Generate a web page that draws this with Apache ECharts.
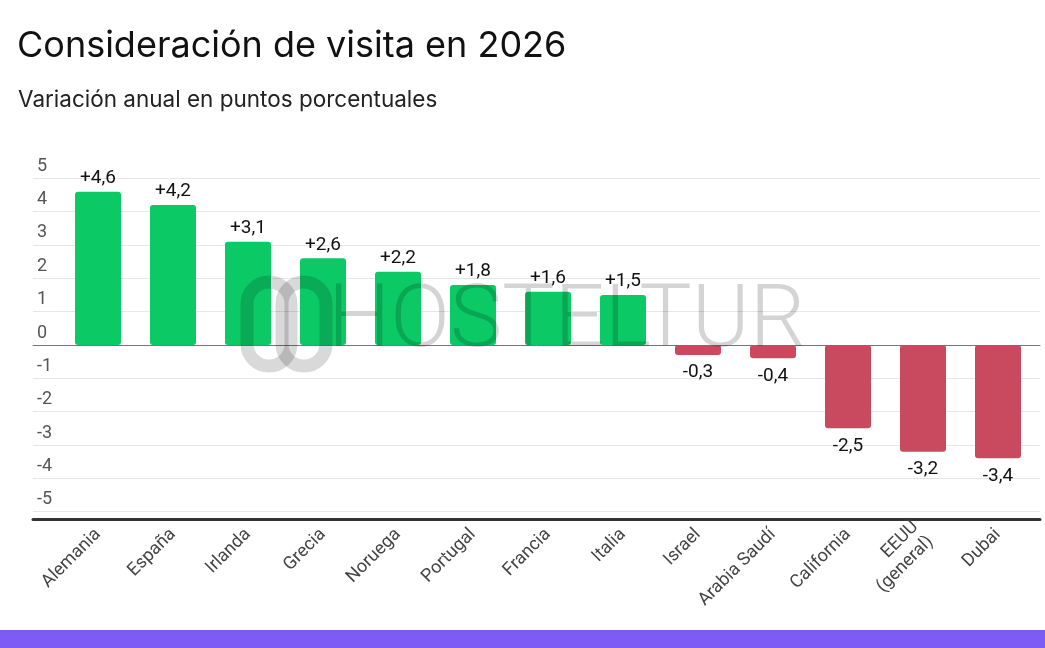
<!DOCTYPE html>
<html>
<head>
<meta charset="utf-8">
<script src="https://cdn.jsdelivr.net/npm/echarts@6/dist/echarts.min.js"></script>
<style>
  html, body { margin: 0; padding: 0; background: #fff; }
  #chart { width: 1045px; height: 648px; }
</style>
</head>
<body>
<div id="chart"></div>
<script>
// datos del gráfico
var categories = ['Alemania', 'España', 'Irlanda', 'Grecia', 'Noruega', 'Portugal', 'Francia',
    'Italia', 'Israel', 'Arabia Saudí', 'California', 'EEUU\n(general)', 'Dubai'];
var values = [4.6, 4.2, 3.1, 2.6, 2.2, 1.8, 1.6, 1.5, -0.3, -0.4, -2.5, -3.2, -3.4];
var yMin = -5;
var yMax = 5;
var yStep = 1;

var GREEN = '#0bc965';
var RED = '#c9495e';

function fmt(v) {
    var s = Math.abs(v).toFixed(1).replace('.', ',');
    return (v > 0 ? '+' : '-') + s;
}

var barData = values.map(function (v) {
    return {
        value: v,
        itemStyle: { color: v >= 0 ? GREEN : RED },
        label: { position: v >= 0 ? 'top' : 'bottom', distance: v >= 0 ? 4 : 8 }
    };
});

var myChart = echarts.init(document.getElementById('chart'));
var gridTop = 178.3;
var gridBottom = 648 - 511.7;

var option = {
    animation: false,
    backgroundColor: '#fff',
    title: [{
        text: 'Consideración de visita en 2026',
        left: 12, top: 23,
        textStyle: { fontFamily: 'Inter', fontSize: 36, fontWeight: 400, color: '#111' }
    }, {
        text: 'Variación anual en puntos porcentuales',
        left: 13, top: 84,
        textStyle: { fontFamily: 'Inter', fontSize: 22.5, fontWeight: 400, color: '#222' }
    }],
    graphic: [
        // marca de agua
        {
            type: 'rect', z: 100, silent: true,
            shape: { x: 247, y: 282, width: 44, height: 84, r: 22 },
            style: { fill: 'none', stroke: 'rgba(0,0,0,0.15)', lineWidth: 13 }
        },
        {
            type: 'rect', z: 100, silent: true,
            shape: { x: 282, y: 282, width: 44, height: 84, r: 22 },
            style: { fill: 'none', stroke: 'rgba(0,0,0,0.15)', lineWidth: 13 }
        },
        {
            type: 'text', z: 100, silent: true, left: 328, top: 280,
            style: {
                text: 'HOSTELTUR', fontFamily: 'Roboto', fontWeight: 300, fontSize: 88,
                fill: 'rgba(0,0,0,0.17)'
            }
        },
        // franja inferior
        {
            type: 'rect', silent: true,
            shape: { x: 0, y: 630, width: 1045, height: 18 },
            style: { fill: '#7d5cf6' }
        }
    ],
    grid: [
        { left: 33, right: 5, top: gridTop, bottom: gridBottom },
        { left: 60.5, right: 9.5, top: gridTop, bottom: gridBottom }
    ],
    xAxis: [
        {
            // línea de cero
            gridIndex: 0, type: 'value', position: 'top', min: 0, max: 1,
            axisLine: { show: true, onZero: true, lineStyle: { color: '#777', width: 1 } },
            axisTick: { show: false }, axisLabel: { show: false }, splitLine: { show: false }
        },
        {
            // línea base inferior
            gridIndex: 0, type: 'value', position: 'bottom', min: 0, max: 1, offset: 8,
            axisLine: { show: true, onZero: false, lineStyle: { color: '#333', width: 3 } },
            axisTick: { show: false }, axisLabel: { show: false }, splitLine: { show: false }
        },
        {
            gridIndex: 1, type: 'category', data: categories,
            axisLine: { show: false }, axisTick: { show: false },
            axisLabel: {
                interval: 0, rotate: 45, margin: 20,
                fontFamily: 'Roboto', fontSize: 18, color: '#444', lineHeight: 21
            }
        }
    ],
    yAxis: [
        {
            gridIndex: 0, type: 'value', min: yMin, max: yMax, interval: yStep,
            axisLine: { show: false }, axisTick: { show: false },
            axisLabel: {
                inside: true, margin: 4, align: 'left', verticalAlign: 'bottom',
                padding: [0, 0, 3, 0],
                fontFamily: 'Roboto', fontSize: 18, color: '#555'
            },
            splitLine: { lineStyle: { color: '#e6e6e6', width: 1 } }
        },
        {
            gridIndex: 1, type: 'value', min: yMin, max: yMax, interval: yStep,
            axisLine: { show: false }, axisTick: { show: false },
            axisLabel: { show: false }, splitLine: { show: false }
        }
    ],
    series: [{
        type: 'bar',
        xAxisIndex: 2, yAxisIndex: 1,
        data: barData,
        barWidth: 46,
        itemStyle: { borderRadius: 3 },
        label: {
            show: true,
            fontFamily: 'Roboto', fontSize: 19, color: '#111',
            formatter: function (p) { return fmt(p.value); }
        }
    }]
};

myChart.setOption(option);
</script>
</body>
</html>
